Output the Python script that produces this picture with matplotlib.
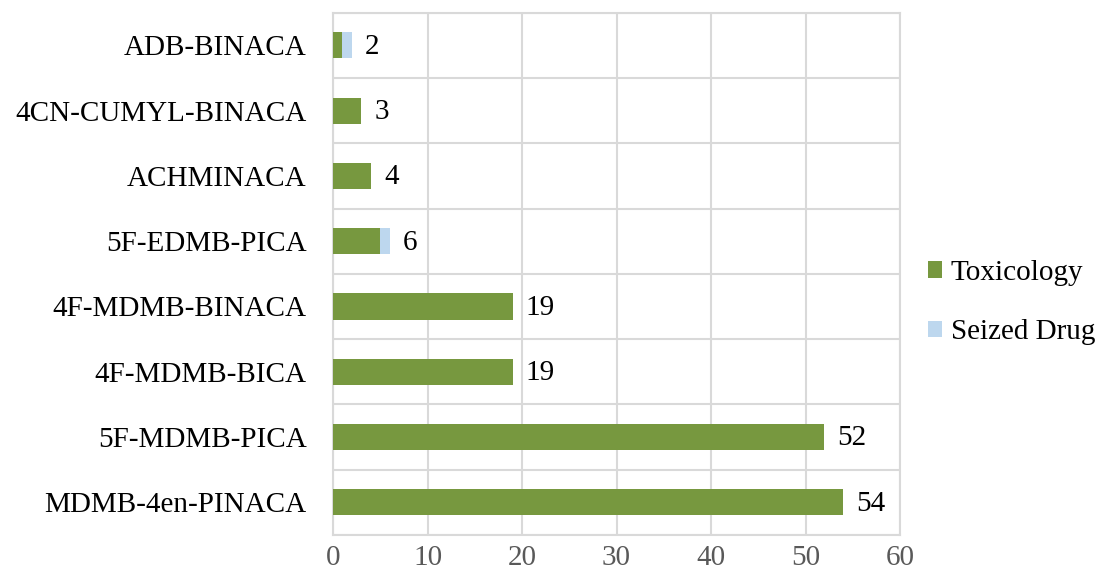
import numpy as np
import matplotlib
matplotlib.use("Agg")
import matplotlib.pyplot as plt

# data (bottom -> top)
drugs = ["MDMB-4en-PINACA", "5F-MDMB-PICA", "4F-MDMB-BICA", "4F-MDMB-BINACA",
         "5F-EDMB-PICA", "ACHMINACA", "4CN-CUMYL-BINACA", "ADB-BINACA"]
toxicology = [54, 52, 19, 19, 5, 4, 3, 1]
seized_drug = [0, 0, 0, 0, 1, 0, 0, 1]
xticks = [0, 10, 20, 30, 40, 50, 60]

plt.rcParams['font.family'] = ['Liberation Serif', 'DejaVu Serif']

fig = plt.figure(figsize=(10.99, 5.82), dpi=100)
ax = fig.add_axes([0.303, 0.081, 0.516, 0.897])

y = np.arange(len(drugs))
tox = np.array(toxicology)
sz = np.array(seized_drug)
ax.barh(y, tox, height=0.4, color='#77983F', label='Toxicology', zorder=3)
ax.barh(y, sz, left=tox, height=0.4, color='#BDD7EE', label='Seized Drug', zorder=3)

for yi, total in zip(y, tox + sz):
    ax.annotate(str(total), (total, yi), xytext=(9.5, -1), textcoords='offset points',
                ha='left', va='center', fontsize=21, color='black')

ax.set_xlim(0, 60)
ax.set_ylim(-0.5, len(drugs) - 0.5)
ax.set_xticks(xticks)
ax.set_yticks(y)
ax.set_yticklabels(drugs)
ax.set_yticks(np.arange(-0.5, len(drugs), 1), minor=True)
ax.tick_params(axis='y', which='both', length=0, labelsize=21, pad=19, colors='black')
ax.tick_params(axis='x', length=0, labelsize=21, pad=7, colors='#595959')
ax.grid(axis='x', color='#D9D9D9', linewidth=1.5, zorder=0)
ax.grid(axis='y', which='minor', color='#D9D9D9', linewidth=1.5, zorder=0)
ax.grid(axis='y', which='major', visible=False)
for s in ax.spines.values():
    s.set_color('#D9D9D9')
    s.set_linewidth(1.5)

handles, labels = ax.get_legend_handles_labels()
fig.legend(handles, labels, loc='center left', bbox_to_anchor=(0.8255, 0.48),
           frameon=False, fontsize=21, handlelength=0.5, handleheight=0.5,
           handletextpad=0.3, labelspacing=1.15, borderpad=0.2)

fig.savefig('out.png', dpi=100)
